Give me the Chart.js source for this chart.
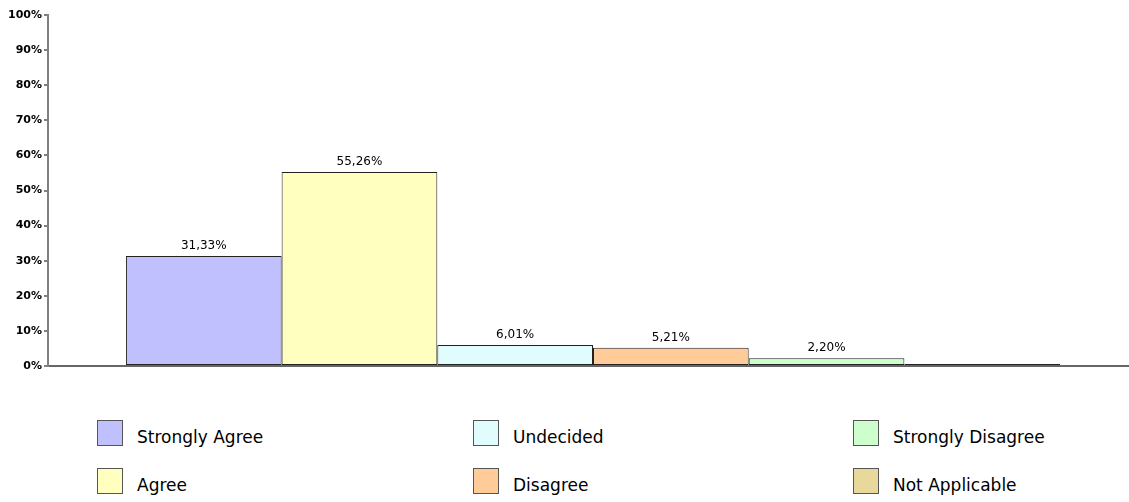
<!DOCTYPE html>
<html lang="en">
<head>
  <meta charset="UTF-8">
  <title>Responses</title>
  <style>
    body { margin: 0; background: #fff; overflow: hidden; width: 1129px; height: 502px; position: relative; }
    .chart-box { position: absolute; left: 0; top: 0; width: 1140px; height: 380px; }
    .legend { position: absolute; left: 0; top: 0; }
    .legend-item { position: absolute; display: flex; align-items: flex-start; font-family: "Comic Sans MS", "DejaVu Sans", sans-serif; font-size: 17px; color: #000; white-space: nowrap; }
    .legend-item span.box { width: 26px; height: 26px; border: 1px solid #555; margin-right: 14px; box-sizing: border-box; }
    .legend-item span.txt { margin-top: 7px; }
  </style>
</head>
<body>
  <div class="chart-box"><canvas id="barChart" width="1140" height="380"></canvas></div>
  <div class="legend" id="legend"></div>

  <script src="https://cdn.jsdelivr.net/npm/chart.js"></script>
  <script>
    // Datos
    const categories = ['Strongly Agree', 'Agree', 'Undecided', 'Disagree', 'Strongly Disagree', 'Not Applicable'];
    const values = [31.33, 55.26, 6.01, 5.21, 2.20, 0];
    const colors = ['#C0C0FF', '#FFFFC0', '#E0FCFC', '#FFCC99', '#CCFFCC', '#E8D89C'];
    const yTicks = [0, 10, 20, 30, 40, 50, 60, 70, 80, 90, 100];

    // etiquetas de valor encima de cada barra
    const valueLabels = {
      id: 'valueLabels',
      afterDatasetsDraw(chart) {
        const ctx = chart.ctx;
        ctx.save();
        ctx.font = '12px "DejaVu Sans", sans-serif';
        ctx.fillStyle = '#000';
        ctx.textAlign = 'center';
        ctx.textBaseline = 'bottom';
        chart.data.datasets.forEach((ds, i) => {
          const v = ds.data[0];
          if (!v) return;
          const bar = chart.getDatasetMeta(i).data[0];
          ctx.fillText(v.toFixed(2).replace('.', ',') + '%', bar.x, bar.y - 4);
        });
        ctx.restore();
      }
    };

    const ctx = document.getElementById('barChart').getContext('2d');
    new Chart(ctx, {
      type: 'bar',
      data: {
        labels: [''],
        datasets: categories.map((c, i) => ({
          label: c,
          data: [values[i]],
          backgroundColor: colors[i],
          borderColor: '#222',
          borderWidth: 1,
          borderSkipped: false,
          minBarLength: values[i] === 0 ? 2 : 0,
          barPercentage: 1,
          categoryPercentage: 0.857
        }))
      },
      options: {
        responsive: false,
        animation: false,
        layout: { padding: { top: 15, right: 2, left: 0, bottom: 0 } },
        plugins: {
          legend: { display: false },
          tooltip: { enabled: false }
        },
        scales: {
          x: {
            ticks: { display: false },
            grid: { display: false },
            border: { display: true, color: '#666', width: 2 },
            afterFit: s => { s.height = 14; }
          },
          y: {
            min: 0,
            max: 100,
            afterBuildTicks: s => { s.ticks = yTicks.map(v => ({ value: v })); },
            ticks: {
              callback: v => v + '%',
              color: '#000',
              padding: 2,
              font: { family: '"DejaVu Sans", sans-serif', size: 11, weight: 'bold' }
            },
            grid: { drawOnChartArea: false, drawTicks: true, tickLength: 4, tickColor: '#808080', lineWidth: 2 },
            border: { display: true, color: '#808080', width: 2 },
            afterFit: s => { s.width = 48; }
          }
        }
      },
      plugins: [valueLabels]
    });

    // leyenda en 3 columnas (orden por columnas)
    const legendX = [97, 473, 853];
    const legendY = [420, 468];
    const legend = document.getElementById('legend');
    categories.forEach((c, i) => {
      const item = document.createElement('div');
      item.className = 'legend-item';
      item.style.left = legendX[Math.floor(i / 2)] + 'px';
      item.style.top = legendY[i % 2] + 'px';
      item.innerHTML = '<span class="box" style="background:' + colors[i] + '"></span><span class="txt">' + c + '</span>';
      legend.appendChild(item);
    });
  </script>
</body>
</html>
